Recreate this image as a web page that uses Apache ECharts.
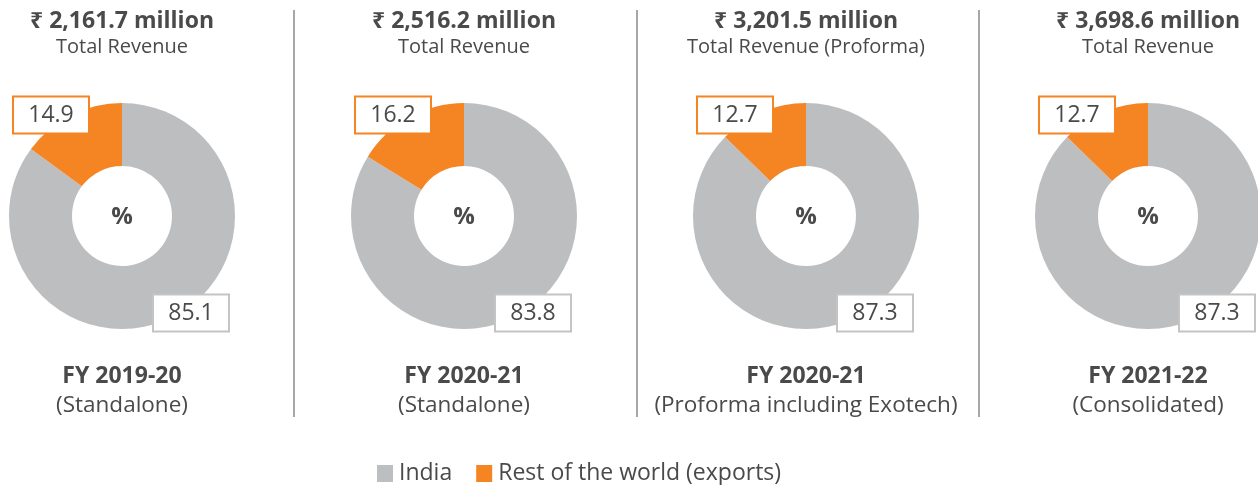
<!DOCTYPE html>
<html>
<head>
<meta charset="utf-8">
<script src="https://cdn.jsdelivr.net/npm/echarts@6/dist/echarts.min.js"></script>
<style>
html,body{margin:0;padding:0;background:#fff;}
#chart{width:1258px;height:485px;}
</style>
</head>
<body>
<div id="chart"></div>
<script>
// ---- data ----
const categories = ['India', 'Rest of the world (exports)'];
const indiaShare = [85.1, 83.8, 87.3, 87.3];
const rowShare = [14.9, 16.2, 12.7, 12.7];
const revenueLabels = ['₹ 2,161.7 million', '₹ 2,516.2 million', '₹ 3,201.5 million', '₹ 3,698.6 million'];
const revenueSubLabels = ['Total Revenue', 'Total Revenue', 'Total Revenue (Proforma)', 'Total Revenue'];
const yearLabels = ['FY 2019-20', 'FY 2020-21', 'FY 2020-21', 'FY 2021-22'];
const basisLabels = ['(Standalone)', '(Standalone)', '(Proforma including Exotech)', '(Consolidated)'];

// ---- layout / style ----
const FONT = "'Open Sans', 'Noto Sans', 'DejaVu Sans', sans-serif";
const TEXT = '#4a4a4a';
const GRAY = '#bdbec0';
const ORANGE = '#f58423';
const centersX = [122, 464, 806, 1148];
const centerY = 216;
const separatorsX = [294, 637, 979];
const labelOffsets = [[69, 97], [-71, -101]]; // [India, RoW]

const chart = echarts.init(document.getElementById('chart'), null, {renderer: 'canvas'});

const series = centersX.map((cx, i) => ({
  type: 'pie',
  center: [cx, centerY],
  radius: [50, 113],
  startAngle: 90,
  clockwise: true,
  silent: true,
  animation: false,
  itemStyle: {borderWidth: 0},
  labelLine: {show: false},
  label: {
    show: true,
    position: 'inside',
    formatter: p => '{' + (p.dataIndex === 0 ? 'g' : 'o') + '|' + p.value.toFixed(1) + '}',
    rich: {
      g: {fontFamily: FONT, fontSize: 23, color: TEXT, backgroundColor: '#fff',
          borderColor: '#c4c4c4', borderWidth: 2, width: 74, height: 35, align: 'center', lineHeight: 35},
      o: {fontFamily: FONT, fontSize: 23, color: TEXT, backgroundColor: '#fff',
          borderColor: ORANGE, borderWidth: 2, width: 74, height: 35, align: 'center', lineHeight: 35}
    }
  },
  labelLayout: p => ({
    x: cx + labelOffsets[p.dataIndex][0],
    y: centerY + labelOffsets[p.dataIndex][1],
    align: 'center',
    verticalAlign: 'middle'
  }),
  data: [
    {name: categories[0], value: indiaShare[i], itemStyle: {color: GRAY}},
    {name: categories[1], value: rowShare[i], itemStyle: {color: ORANGE}}
  ]
}));

const graphics = [];
centersX.forEach((cx, i) => {
  graphics.push({type: 'text', x: cx, y: 21, style: {text: revenueLabels[i], font: 'bold 23px ' + FONT, fill: TEXT, align: 'center', verticalAlign: 'middle'}});
  graphics.push({type: 'text', x: cx, y: 47, style: {text: revenueSubLabels[i], font: '20px ' + FONT, fill: TEXT, align: 'center', verticalAlign: 'middle'}});
  graphics.push({type: 'text', x: cx, y: centerY + 1, z: 10, style: {text: '%', font: 'bold 24px ' + FONT, fill: TEXT, align: 'center', verticalAlign: 'middle'}});
  graphics.push({type: 'text', x: cx, y: 376, style: {text: yearLabels[i], font: 'bold 23px ' + FONT, fill: TEXT, align: 'center', verticalAlign: 'middle'}});
  graphics.push({type: 'text', x: cx, y: 406, style: {text: basisLabels[i], font: '22.5px ' + FONT, fill: TEXT, align: 'center', verticalAlign: 'middle'}});
});
separatorsX.forEach(x => {
  graphics.push({type: 'line', shape: {x1: x, y1: 10, x2: x, y2: 417}, style: {stroke: '#8a8a8a', lineWidth: 1.5}});
});

chart.setOption({
  backgroundColor: '#fff',
  animation: false,
  legend: {
    data: categories,
    left: 372,
    top: 457,
    icon: 'rect',
    itemWidth: 16,
    itemHeight: 17,
    itemGap: 24,
    textStyle: {fontFamily: FONT, fontSize: 23, color: TEXT, padding: [0, 0, 0, 1]},
    selectedMode: false
  },
  graphic: graphics,
  series: series
});
</script>
</body>
</html>
